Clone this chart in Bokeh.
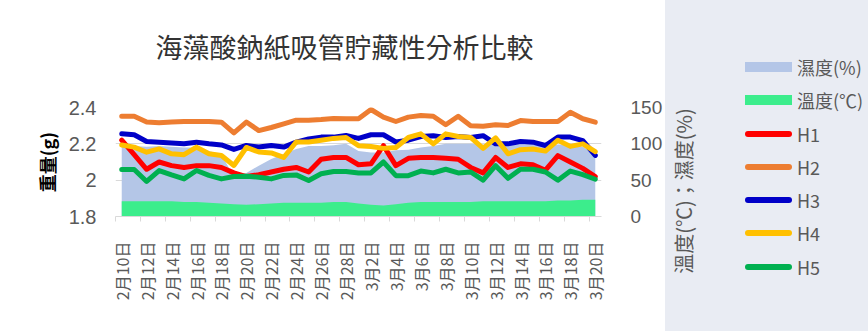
import math
from bokeh.plotting import figure
from bokeh.layouts import row
from bokeh.models import (Range1d, LinearAxis, FixedTicker, Title, Div)
from bokeh.embed import file_html
from bokeh.resources import INLINE

# ---------------- data ----------------
dates = [f"2月{d}日" for d in range(10, 29)] + [f"3月{d}日" for d in range(1, 21)]

humidity = [98, 97, 96, 97, 96, 95, 95, 90, 85, 55, 60, 70, 79, 86, 93, 97, 97, 98, 100, 90,
            88, 88, 91, 92, 95, 97, 100, 100, 100, 99, 100, 99, 99, 99, 98, 99, 99, 96, 85]
temperature = [21, 21, 21, 21, 21, 20, 20, 19, 18, 17, 16, 17, 18, 19, 19, 19, 19, 20, 20, 18,
               16, 15, 17, 19, 20, 20, 20, 20, 20, 21, 21, 21, 21, 21, 21, 22, 22, 23, 23]
h1 = [2.22, 2.14, 2.06, 2.10, 2.08, 2.07, 2.08, 2.08, 2.07, 2.04, 2.02, 2.03, 2.045, 2.06, 2.07,
      2.045, 2.115, 2.125, 2.125, 2.085, 2.09, 2.19, 2.08, 2.12, 2.125, 2.125, 2.12, 2.115, 2.07,
      2.04, 2.125, 2.07, 2.09, 2.085, 2.055, 2.135, 2.10, 2.065, 2.02]
h2 = [2.352, 2.352, 2.32, 2.316, 2.32, 2.323, 2.323, 2.323, 2.319, 2.26, 2.32, 2.273, 2.29, 2.31,
      2.33, 2.33, 2.334, 2.34, 2.338, 2.338, 2.389, 2.347, 2.323, 2.347, 2.356, 2.352, 2.305,
      2.352, 2.30, 2.297, 2.305, 2.301, 2.328, 2.323, 2.323, 2.323, 2.374, 2.338, 2.319]
h3 = [2.255, 2.25, 2.213, 2.209, 2.205, 2.2, 2.209, 2.2, 2.194, 2.169, 2.191, 2.182, 2.191, 2.182,
      2.209, 2.227, 2.237, 2.237, 2.246, 2.23, 2.25, 2.25, 2.21, 2.22, 2.24, 2.245, 2.235, 2.24,
      2.235, 2.245, 2.2, 2.2, 2.213, 2.209, 2.191, 2.237, 2.237, 2.218, 2.136]
h4 = [2.194, 2.182, 2.154, 2.172, 2.145, 2.14, 2.182, 2.145, 2.136, 2.081, 2.18, 2.155, 2.15,
      2.125, 2.21, 2.21, 2.22, 2.23, 2.235, 2.19, 2.185, 2.175, 2.18, 2.235, 2.255, 2.2, 2.255,
      2.24, 2.235, 2.175, 2.233, 2.145, 2.168, 2.172, 2.16, 2.22, 2.186, 2.2, 2.157]
h5 = [2.059, 2.059, 1.993, 2.053, 2.029, 2.007, 2.053, 2.026, 2.007, 2.02, 2.022, 2.016, 2.007,
      2.026, 2.029, 1.998, 2.035, 2.048, 2.048, 2.04, 2.04, 2.10, 2.025, 2.025, 2.05, 2.04, 2.06,
      2.04, 2.045, 2.0, 2.08, 2.01, 2.06, 2.06, 2.045, 2.0, 2.05, 2.03, 2.005]

weight_ticks = [1.8, 2.0, 2.2, 2.4]
weight_tick_labels = ["1.8", "2", "2.2", "2.4"]
env_ticks = [0, 50, 100, 150]

title_text = "海藻酸鈉紙吸管貯藏性分析比較"
left_label = "重量(g)"
right_label = "溫度(℃)；濕度(%)"
area_names = ["濕度(%)", "溫度(℃)"]
area_colors = ["#b4c6e7", "#3ced8c"]
series_names = ["H1", "H2", "H3", "H4", "H5"]
series_values = [h1, h2, h3, h4, h5]
series_colors = ["#ff0000", "#ed7d31", "#0000c8", "#ffc000", "#00b050"]

x = list(range(len(dates)))

# ---------------- chart ----------------
p = figure(width=665, height=331,
           x_range=Range1d(-0.5, len(dates) - 0.5),
           y_range=Range1d(1.8, 2.4),
           output_backend="svg", toolbar_location=None,
           min_border_left=115, min_border_right=61,
           min_border_top=107, min_border_bottom=115)
p.extra_y_ranges = {"env": Range1d(0, 150)}
p.outline_line_color = None
p.background_fill_color = "white"
p.border_fill_color = "white"

p.title.text = title_text
p.title.text_font = "Noto Sans CJK TC"
p.title.text_font_size = "27px"
p.title.text_font_style = "normal"
p.title.text_color = "#333333"
p.title.align = "left"
p.title.offset = 40
# empty spacer between the title and the plot frame
p.add_layout(Title(text=" ", text_font_size="22px"), "above")

p.varea(x=x, y1=0, y2=humidity, fill_color=area_colors[0], y_range_name="env")
p.varea(x=x, y1=0, y2=temperature, fill_color=area_colors[1], y_range_name="env")
for vals, col in zip(series_values, series_colors):
    p.line(x=x, y=vals, line_color=col, line_width=5, line_join="round", line_cap="round")

# x axis
xa = p.xaxis[0]
xa.ticker = FixedTicker(ticks=x[::2],
                        minor_ticks=[i - 0.5 for i in range(0, len(dates), 2)])
xa.major_label_overrides = {i: dates[i] for i in x[::2]}
xa.major_label_orientation = math.pi / 2
xa.major_tick_out = 0
xa.major_tick_in = 0
xa.minor_tick_out = 5
xa.minor_tick_in = 0
xa.minor_tick_line_color = "#d9d9d9"
xa.axis_line_color = "#d9d9d9"
xa.major_label_standoff = 20
xa.major_label_text_font = "Noto Sans CJK TC"
xa.major_label_text_font_size = "16px"
xa.major_label_text_color = "#595959"

# left y axis
ya = p.yaxis[0]
ya.ticker = FixedTicker(ticks=weight_ticks)
ya.major_label_overrides = dict(zip(weight_ticks, weight_tick_labels))
ya.axis_line_color = None
ya.major_tick_line_color = None
ya.minor_tick_line_color = None
ya.major_label_standoff = 13
ya.major_label_text_font = "Liberation Sans"
ya.major_label_text_font_size = "20px"
ya.major_label_text_color = "#595959"
ya.axis_label = left_label
ya.axis_label_text_font = "Noto Sans CJK TC"
ya.axis_label_text_font_style = "bold"
ya.axis_label_text_font_size = "18px"
ya.axis_label_text_color = "#000000"
ya.axis_label_standoff = 6

# right y axis (ticks only; its title sits in the side panel)
ra = LinearAxis(y_range_name="env", ticker=FixedTicker(ticks=env_ticks))
ra.axis_line_color = None
ra.major_tick_line_color = None
ra.minor_tick_line_color = None
ra.major_label_standoff = 23
ra.major_label_text_font = "Liberation Sans"
ra.major_label_text_font_size = "19px"
ra.major_label_text_color = "#595959"
p.add_layout(ra, "right")

p.xgrid.visible = False
p.ygrid.grid_line_color = "#d9d9d9"
p.ygrid.grid_line_width = 1

# ---------------- side panel: right-axis title + legend ----------------
legend_labels = area_names + series_names
legend_colors = area_colors + series_colors
swatch_h = [10, 10, 6, 6, 6, 6, 6]
parts = [
    '<div style="position:relative;width:203px;height:331px;background:#e9ecf3;'
    'font-family:\'Noto Sans CJK TC\',sans-serif;color:#595959;overflow:hidden;">',
    '<div style="position:absolute;left:19px;top:191px;white-space:nowrap;font-size:20px;'
    'line-height:24px;transform:translate(-50%,-50%) rotate(-90deg);">' + right_label + '</div>',
]
for k, (lab, col, sh) in enumerate(zip(legend_labels, legend_colors, swatch_h)):
    cy = 67 + round(k * 33.3)
    radius = 3 if sh < 10 else 0
    parts.append(f'<div style="position:absolute;left:80px;top:{cy - sh / 2}px;width:47px;'
                 f'height:{sh}px;background:{col};border-radius:{radius}px;"></div>')
    parts.append(f'<div style="position:absolute;left:132px;top:{cy - 12}px;height:24px;'
                 f'line-height:24px;font-size:18px;white-space:nowrap;">{lab}</div>')
parts.append('</div>')
side = Div(text="".join(parts), width=203, height=331, margin=0)

layout = row(p, side, spacing=0)
open("out.html", "w").write(file_html(layout, INLINE))
